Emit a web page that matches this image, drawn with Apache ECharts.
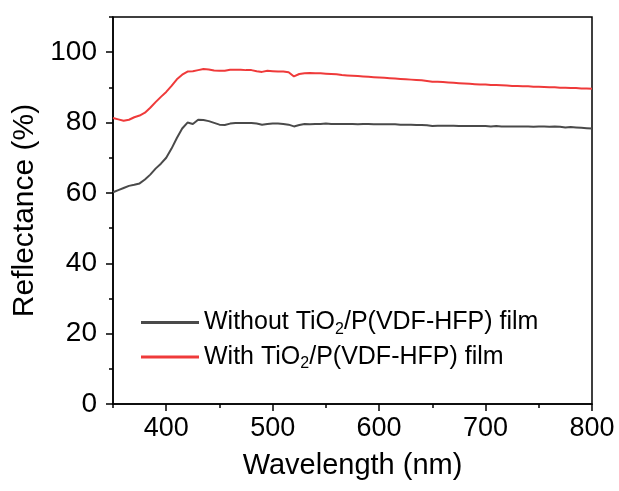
<!DOCTYPE html>
<html>
<head>
<meta charset="utf-8">
<script src="https://cdn.jsdelivr.net/npm/echarts@6/dist/echarts.min.js"></script>
<style>
  html, body { margin: 0; padding: 0; background: #fff; }
  #chart { width: 619px; height: 491px; }
</style>
</head>
<body>
<div id="chart"></div>
<script>
// Wavelength sampling (nm)
const wavelength = [
  350,355,360,365,370,375,380,385,390,395,400,405,410,415,420,425,430,435,440,445,
  450,455,460,465,470,475,480,485,490,495,500,505,510,515,520,525,530,535,540,545,
  550,555,560,565,570,575,580,585,590,595,600,605,610,615,620,625,630,635,640,645,
  650,655,660,665,670,675,680,685,690,695,700,705,710,715,720,725,730,735,740,745,
  750,755,760,765,770,775,780,785,790,795,800
];

// Reflectance (%) without the TiO2/P(VDF-HFP) film
const withoutFilm = [
  60.2,60.8,61.4,62.0,62.3,62.7,63.8,65.2,66.9,68.3,70.0,72.6,75.6,78.3,80.0,79.6,80.8,80.7,80.4,79.9,
  79.4,79.3,79.7,79.9,79.9,79.9,79.9,79.7,79.4,79.6,79.7,79.7,79.6,79.4,78.9,79.3,79.6,79.5,79.6,79.6,
  79.7,79.6,79.6,79.6,79.6,79.6,79.5,79.6,79.6,79.5,79.5,79.5,79.5,79.5,79.4,79.4,79.4,79.3,79.3,79.2,
  79.0,79.1,79.1,79.1,79.1,79.0,79.0,79.0,79.0,79.0,79.0,78.9,79.0,78.9,78.9,78.9,78.9,78.9,78.9,78.8,
  78.9,78.9,78.8,78.9,78.8,78.6,78.7,78.6,78.5,78.4,78.3
];

// Reflectance (%) with the TiO2/P(VDF-HFP) film
const withFilm = [
  81.3,80.9,80.5,80.8,81.5,82.0,82.8,84.2,85.8,87.3,88.7,90.4,92.3,93.6,94.5,94.6,94.9,95.2,95.1,94.8,
  94.7,94.7,95.0,95.0,95.0,94.9,94.9,94.6,94.4,94.7,94.6,94.5,94.5,94.3,93.1,93.8,94.0,94.1,94.0,94.0,
  93.9,93.8,93.7,93.5,93.4,93.3,93.2,93.1,93.0,92.9,92.8,92.7,92.6,92.5,92.4,92.3,92.2,92.1,92.0,91.8,
  91.6,91.6,91.5,91.4,91.3,91.2,91.1,91.0,90.9,90.8,90.8,90.7,90.7,90.6,90.5,90.4,90.4,90.3,90.3,90.2,
  90.2,90.1,90.0,90.0,89.9,89.9,89.8,89.8,89.7,89.7,89.6
];

// Axis tick positions
const xMajorTicks = [400, 500, 600, 700, 800];
const xMinorTicks = [350, 450, 550, 650, 750];
const yMajorTicks = [0, 20, 40, 60, 80, 100];
const yMinorTicks = [10, 30, 50, 70, 90, 110];

const seriesNames = ['Without TiO2/P(VDF-HFP) film', 'With TiO2/P(VDF-HFP) film'];
const seriesColors = ['#4a4a4a', '#ef3a3a'];

const FONT = '"Liberation Sans", Arial, sans-serif';

function pairs(xs, ys) {
  return xs.map((x, i) => [x, ys[i]]);
}

// Legend text with the "2" of TiO2 drawn as a subscript
function legendText(name) {
  const parts = name.split('TiO2');
  return '{n|' + parts[0] + 'TiO}{s|2}{n|' + parts[1] + '}';
}

const chart = echarts.init(document.getElementById('chart'), null, { renderer: 'canvas' });

const axisLineStyle = { color: '#000', width: 1.5 };

chart.setOption({
  animation: false,
  backgroundColor: '#fff',
  grid: {
    left: 113, right: 27, top: 17, bottom: 87,
    show: true, borderColor: '#000', borderWidth: 1.5, backgroundColor: 'transparent'
  },
  legend: {
    orient: 'vertical',
    left: 136,
    top: 305,
    itemWidth: 58,
    itemHeight: 3,
    itemGap: 7,
    icon: 'rect',
    data: seriesNames,
    formatter: legendText,
    textStyle: {
      fontFamily: FONT,
      color: '#000',
      rich: {
        n: { fontFamily: FONT, fontSize: 25, color: '#000', lineHeight: 30 },
        s: { fontFamily: FONT, fontSize: 16, color: '#000', lineHeight: 14, verticalAlign: 'bottom' }
      }
    }
  },
  xAxis: [
    {
      type: 'value', min: 350, max: 800,
      name: 'Wavelength (nm)', nameLocation: 'middle', nameGap: 47,
      nameTextStyle: { fontFamily: FONT, fontSize: 29, color: '#000' },
      axisLine: { show: true, onZero: false, lineStyle: axisLineStyle },
      axisTick: { show: true, length: 7, lineStyle: { color: '#000', width: 1.5 }, customValues: xMajorTicks },
      axisLabel: { fontFamily: FONT, fontSize: 27, color: '#000', margin: 11, customValues: xMajorTicks },
      splitLine: { show: false }
    },
    {
      type: 'value', min: 350, max: 800, position: 'bottom',
      axisLine: { show: false },
      axisTick: { show: true, length: 4, lineStyle: { color: '#000', width: 1.5 }, customValues: xMinorTicks },
      axisLabel: { show: false },
      splitLine: { show: false }
    }
  ],
  yAxis: [
    {
      type: 'value', min: 0, max: 110,
      name: 'Reflectance (%)', nameLocation: 'middle', nameGap: 68, nameRotate: 90,
      nameTextStyle: { fontFamily: FONT, fontSize: 30, color: '#000' },
      axisLine: { show: true, onZero: false, lineStyle: axisLineStyle },
      axisTick: { show: true, length: 7, lineStyle: { color: '#000', width: 1.5 }, customValues: yMajorTicks },
      axisLabel: { fontFamily: FONT, fontSize: 28, color: '#000', margin: 16, customValues: yMajorTicks },
      splitLine: { show: false }
    },
    {
      type: 'value', min: 0, max: 110, position: 'left',
      axisLine: { show: false },
      axisTick: { show: true, length: 4, lineStyle: { color: '#000', width: 1.5 }, customValues: yMinorTicks },
      axisLabel: { show: false },
      splitLine: { show: false }
    }
  ],
  series: [
    {
      name: seriesNames[0], type: 'line', xAxisIndex: 0, yAxisIndex: 0,
      data: pairs(wavelength, withoutFilm),
      showSymbol: false, symbol: 'none',
      lineStyle: { color: seriesColors[0], width: 2 },
      itemStyle: { color: seriesColors[0] }
    },
    {
      name: seriesNames[1], type: 'line', xAxisIndex: 0, yAxisIndex: 0,
      data: pairs(wavelength, withFilm),
      showSymbol: false, symbol: 'none',
      lineStyle: { color: seriesColors[1], width: 2 },
      itemStyle: { color: seriesColors[1] }
    }
  ]
});
</script>
</body>
</html>
